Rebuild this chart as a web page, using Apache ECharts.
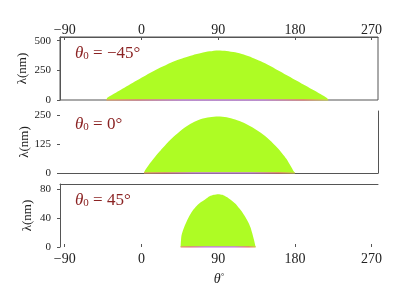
<!DOCTYPE html>
<html><head><meta charset="utf-8">
<script src="https://cdn.jsdelivr.net/npm/echarts@6/dist/echarts.min.js"></script>
<style>html,body{margin:0;padding:0;background:#fff}#c{width:400px;height:300px}</style>
</head><body><div id="c"></div>
<script>
// Data
var xTicks = [-90, 0, 90, 180, 270];
var yTicks1 = [0, 250, 500];
var yTicks2 = [0, 125, 250];
var yTicks3 = [0, 40, 80];
var labels = ['-45', '0', '45'];
// theta (deg), lambda (nm)
var curve1 = [[-41,0],[-40,20],[-30,62],[-20,104],[-10,145],[0,187],[10,228],[20,266],[30,300],[40,330],[50,356],[60,378],[70,396],[80,410],[90,418],[100,414],[110,402],[120,383],[130,357],[140,326],[150,290],[160,250],[170,210],[180,170],[190,130],[200,90],[210,50],[218,15],[219,0]];
var curve2 = [[3,0],[4,10],[10,42],[20,88],[30,130],[40,165],[50,196],[60,219],[70,235],[80,243],[90,246],[100,243],[110,233],[120,219],[130,199],[140,175],[150,145],[160,108],[170,62],[179,5],[180,0]];
var curve3 = [[46,0],[47,16],[50,27],[55,40],[60,50],[65,57],[70,62],[75,66],[80,70],[85,72],[90,73],[95,72],[100,69],[105,65],[110,60],[115,53],[120,45],[125,35],[128,27],[130,19],[132,10],[133,5],[134,0]];

var chart = echarts.init(document.getElementById('c'), null, {renderer:'canvas'});
var SERIF = '"Liberation Serif","DejaVu Serif",serif';
var AX = '#555';
var green = '#aefc24';
var strip = {type:'linear',x:0,y:0,x2:1,y2:0,colorStops:[
  {offset:0,color:'#e0a060'},{offset:0.15,color:'#e07888'},{offset:0.35,color:'#c878e8'},
  {offset:0.7,color:'#c878e8'},{offset:0.88,color:'#e87878'},{offset:1,color:'#c8e040'}]};
function minus(v){return String(v).replace('-', '\u2212');}
function xAxisBase(grid, pos){
  return {type:'value', gridIndex:grid, position:pos, min:-95.5, max:277.5,
    splitLine:{show:false},
    axisLine:{show:true, onZero:false, lineStyle:{color:AX, width:1}},
    axisTick:{show:true, inside:true, length:3, customValues:xTicks, lineStyle:{color:AX}},
    axisLabel:{show:true, customValues:xTicks, formatter:minus, fontFamily:SERIF, fontSize:14, color:'#222', margin:5}};
}
function yAxisBase(grid, max, ticks, gap){
  return {type:'value', gridIndex:grid, position:'left', min:0, max:max,
    splitLine:{show:false},
    axisLine:{show:true, onZero:false, lineStyle:{color:AX, width:1}},
    axisTick:{show:true, inside:false, length:3, customValues:ticks, lineStyle:{color:AX}},
    axisLabel:{customValues:ticks, fontFamily:SERIF, fontSize:11, color:'#222', margin:9},
    name:'\u03bb(nm)', nameLocation:'middle', nameGap:gap, nameRotate:90, nameMoveOverlap:false,
    nameTextStyle:{fontFamily:SERIF, fontSize:13, color:'#222'}};
}
var x0 = xAxisBase(0,'top'); x0.axisLabel.margin=0;
var x1 = xAxisBase(1,'bottom'); x1.axisLabel.show=false; x1.axisTick.show=false;
var x2 = xAxisBase(2,'bottom'); x2.axisLine.show=false;
x2.name='{t|\u03b8}{d|\u00b0}'; x2.nameLocation='middle'; x2.nameGap=25;
x2.nameTextStyle={rich:{t:{fontFamily:SERIF,fontStyle:'italic',fontSize:14,color:'#222'},d:{fontFamily:SERIF,fontSize:9,color:'#222',verticalAlign:'top',padding:[0,0,6,0]}}};
var x3 = {type:'value', gridIndex:2, position:'top', min:-95.5, max:277.5, splitLine:{show:false},
  axisLine:{show:true, onZero:false, lineStyle:{color:AX}}, axisTick:{show:false}, axisLabel:{show:false}};
var y0 = yAxisBase(0, 531, yTicks1, 31);
var y1 = yAxisBase(1, 270, yTicks2, 29);
y1.axisLine.show=false;
var y2 = yAxisBase(2, 87, yTicks3, 26);
var y3 = {type:'value', gridIndex:1, position:'right', min:0, max:270, splitLine:{show:false},
  axisLine:{show:true, onZero:false, lineStyle:{color:AX}}, axisTick:{show:false}, axisLabel:{show:false}};

function area(i, d){
  return {type:'line', xAxisIndex:i, yAxisIndex:i, data:d, showSymbol:false, silent:true,
    smooth:0.25,
    lineStyle:{width:0}, areaStyle:{color:green, opacity:1}, z:2};
}
function stripS(i, d){
  return {type:'line', xAxisIndex:i, yAxisIndex:i, data:[[d[0][0],0],[d[d.length-1][0],0]],
    showSymbol:false, silent:true, lineStyle:{width:1.5, color:strip}, z:3};
}
function ann(lbl, top){
  return {text:'{t|\u03b8}{s|0}{n| = '+minus(lbl)+'\u00b0}', left:70, top:top,
    textStyle:{fontWeight:'normal', rich:{
      t:{fontFamily:SERIF, fontStyle:'italic', fontWeight:'normal', fontSize:17, color:'#8b2323'},
      s:{fontFamily:SERIF, fontWeight:'normal', fontSize:11, color:'#8b2323', verticalAlign:'bottom', padding:[6,0,0,0]},
      n:{fontFamily:SERIF, fontWeight:'normal', fontSize:17, color:'#8b2323'}}}};
}
chart.setOption({
  animation:false,
  title:[ann(labels[0],40), ann(labels[1],111), ann(labels[2],187)],
  grid:[
    {left:60, right:22, top:37, height:63, show:true, borderColor:AX, borderWidth:1},
    {left:60, right:22, top:111, height:62},
    {left:60, right:22, top:184, height:63}
  ],
  xAxis:[x0,x1,x2,x3],
  yAxis:[y0,y1,y2,y3],
  series:[area(0,curve1), area(1,curve2), area(2,curve3), stripS(0,curve1), stripS(1,curve2), stripS(2,curve3)]
});
</script></body></html>
